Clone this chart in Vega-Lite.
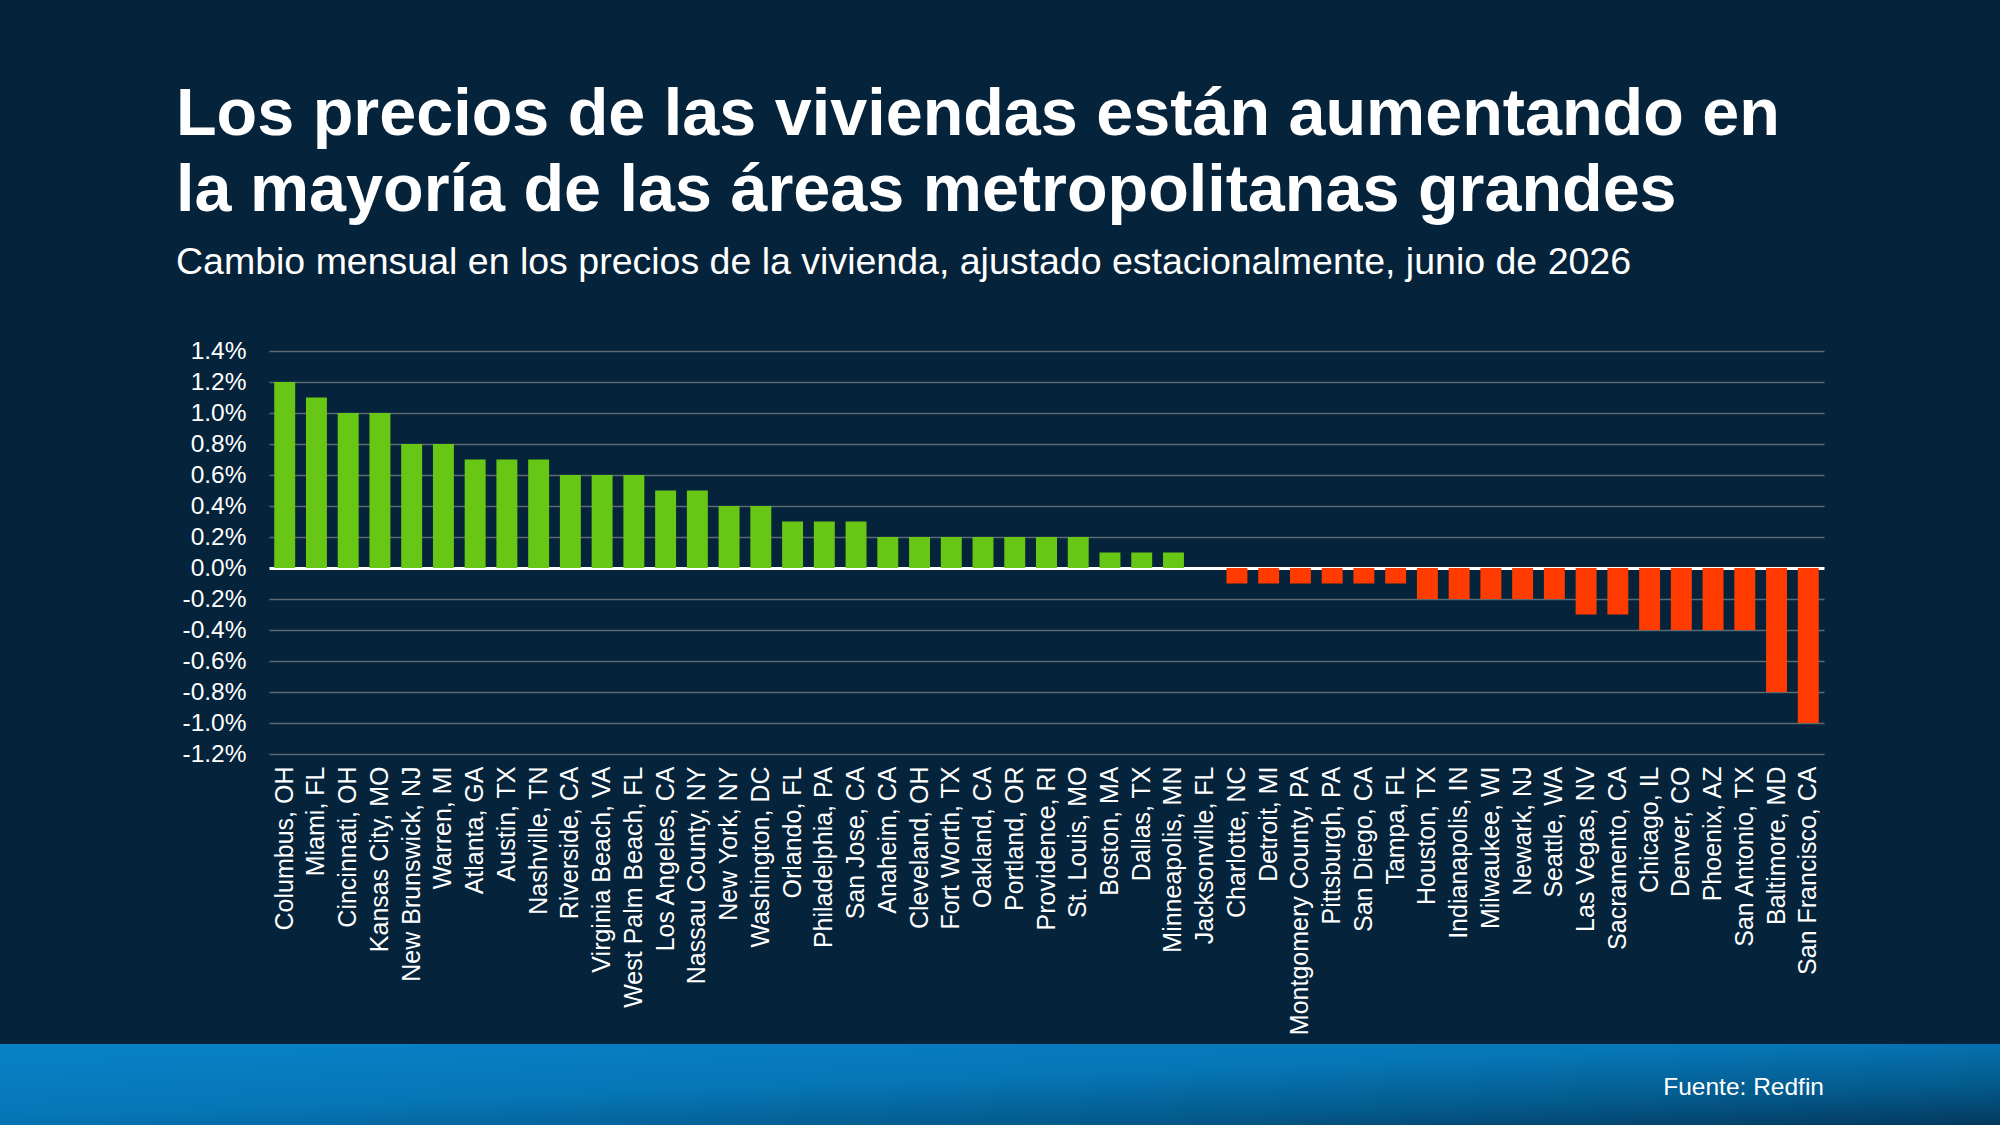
{
  "$schema": "https://vega.github.io/schema/vega-lite/v6.json",
  "background": "#05233a",
  "padding": {"left": 0, "top": 82, "right": 0, "bottom": 0},
  "spacing": 9,
  "bounds": "full",
  "config": {
    "font": "Liberation Sans",
    "view": {"stroke": null}
  },
  "vconcat": [
    {
      "width": 1824,
      "height": 403,
      "title": {
        "text": ["Los precios de las viviendas están aumentando en", "la mayoría de las áreas metropolitanas grandes"],
        "subtitle": "Cambio mensual en los precios de la vivienda, ajustado estacionalmente, junio de 2026",
        "anchor": "start",
        "frame": "group",
        "dx": 176,
        "offset": 57,
        "fontSize": 66.5,
        "fontWeight": "bold",
        "lineHeight": 76,
        "color": "#ffffff",
        "font": "Liberation Sans",
        "subtitleFont": "Liberation Sans",
        "subtitleFontSize": 37.5,
        "subtitleColor": "#ffffff",
        "subtitlePadding": 19
      },
      "data": {
        "values": [
          {"metro": "Columbus, OH", "change": 1.2},
          {"metro": "Miami, FL", "change": 1.1},
          {"metro": "Cincinnati, OH", "change": 1.0},
          {"metro": "Kansas City, MO", "change": 1.0},
          {"metro": "New Brunswick, NJ", "change": 0.8},
          {"metro": "Warren, MI", "change": 0.8},
          {"metro": "Atlanta, GA", "change": 0.7},
          {"metro": "Austin, TX", "change": 0.7},
          {"metro": "Nashville, TN", "change": 0.7},
          {"metro": "Riverside, CA", "change": 0.6},
          {"metro": "Virginia Beach, VA", "change": 0.6},
          {"metro": "West Palm Beach, FL", "change": 0.6},
          {"metro": "Los Angeles, CA", "change": 0.5},
          {"metro": "Nassau County, NY", "change": 0.5},
          {"metro": "New York, NY", "change": 0.4},
          {"metro": "Washington, DC", "change": 0.4},
          {"metro": "Orlando, FL", "change": 0.3},
          {"metro": "Philadelphia, PA", "change": 0.3},
          {"metro": "San Jose, CA", "change": 0.3},
          {"metro": "Anaheim, CA", "change": 0.2},
          {"metro": "Cleveland, OH", "change": 0.2},
          {"metro": "Fort Worth, TX", "change": 0.2},
          {"metro": "Oakland, CA", "change": 0.2},
          {"metro": "Portland, OR", "change": 0.2},
          {"metro": "Providence, RI", "change": 0.2},
          {"metro": "St. Louis, MO", "change": 0.2},
          {"metro": "Boston, MA", "change": 0.1},
          {"metro": "Dallas, TX", "change": 0.1},
          {"metro": "Minneapolis, MN", "change": 0.1},
          {"metro": "Jacksonville, FL", "change": 0.0},
          {"metro": "Charlotte, NC", "change": -0.1},
          {"metro": "Detroit, MI", "change": -0.1},
          {"metro": "Montgomery County, PA", "change": -0.1},
          {"metro": "Pittsburgh, PA", "change": -0.1},
          {"metro": "San Diego, CA", "change": -0.1},
          {"metro": "Tampa, FL", "change": -0.1},
          {"metro": "Houston, TX", "change": -0.2},
          {"metro": "Indianapolis, IN", "change": -0.2},
          {"metro": "Milwaukee, WI", "change": -0.2},
          {"metro": "Newark, NJ", "change": -0.2},
          {"metro": "Seattle, WA", "change": -0.2},
          {"metro": "Las Vegas, NV", "change": -0.3},
          {"metro": "Sacramento, CA", "change": -0.3},
          {"metro": "Chicago, IL", "change": -0.4},
          {"metro": "Denver, CO", "change": -0.4},
          {"metro": "Phoenix, AZ", "change": -0.4},
          {"metro": "San Antonio, TX", "change": -0.4},
          {"metro": "Baltimore, MD", "change": -0.8},
          {"metro": "San Francisco, CA", "change": -1.0}
        ]
      },
      "mark": {"type": "bar"},
      "encoding": {
        "x": {
          "field": "metro",
          "type": "nominal",
          "sort": null,
          "scale": {"range": [269, 1824], "paddingInner": 0.34, "paddingOuter": 0.165},
          "axis": {
            "title": null,
            "labelAngle": -90,
            "labelFontSize": 25,
            "labelColor": "#ffffff",
            "labelPadding": 12,
            "labelLimit": 500,
            "labelOverlap": false,
            "ticks": false,
            "domain": false,
            "grid": false
          }
        },
        "y": {
          "field": "change",
          "type": "quantitative",
          "scale": {"domain": [-1.2, 1.4], "nice": false, "zero": false},
          "axis": {
            "title": null,
            "offset": -269,
            "values": [-1.2, -1.0, -0.8, -0.6, -0.4, -0.2, 0, 0.2, 0.4, 0.6, 0.8, 1.0, 1.2, 1.4],
            "labelExpr": "replace(format(datum.value, '.1f'), '\u2212', '-') + '%'",
            "labelFontSize": 24.5,
            "labelColor": "#ffffff",
            "labelPadding": 1578,
            "labelOverlap": false,
            "labelFlush": false,
            "domain": false,
            "grid": false,
            "ticks": true,
            "tickSize": -1555,
            "tickColor": {"condition": {"test": "datum.value === 0", "value": "#ffffff"}, "value": "#5e6a72"},
            "tickWidth": {"condition": {"test": "datum.value === 0", "value": 2.8}, "value": 1.6}
          }
        },
        "color": {
          "condition": {"test": "datum.change < 0", "value": "#ff3b00"},
          "value": "#68c614"
        }
      }
    },
    {
      "width": 2000,
      "height": 82,
      "title": {
        "text": "Fuente: Redfin",
        "orient": "bottom",
        "anchor": "end",
        "frame": "group",
        "dx": -176,
        "offset": -50,
        "fontSize": 24.5,
        "fontWeight": "normal",
        "color": "#ffffff",
        "font": "Liberation Sans"
      },
      "data": {"values": [{"band": "footer"}]},
      "mark": {
        "type": "rect",
        "fill": {
          "gradient": "linear",
          "x1": 0, "y1": 0, "x2": 1, "y2": 1,
          "stops": [
            {"offset": 0, "color": "#0a82c8"},
            {"offset": 0.45, "color": "#0676b6"},
            {"offset": 0.75, "color": "#045a8c"},
            {"offset": 1, "color": "#03385c"}
          ]
        }
      },
      "encoding": {}
    }
  ]
}
